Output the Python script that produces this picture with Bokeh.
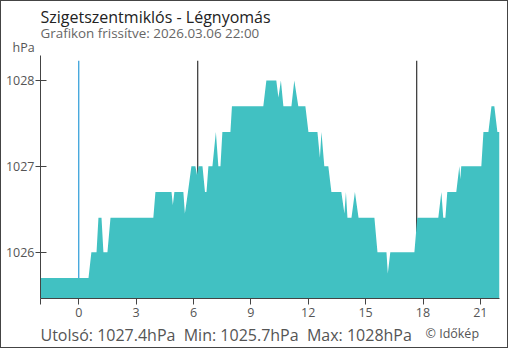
from bokeh.plotting import figure
from bokeh.models import FixedTicker, Title, Range1d
from bokeh.embed import file_html
from bokeh.resources import INLINE

# ---- data (hours relative to midnight of 2026.03.06, pressure in hPa) ----
hours = [-2.0, 0.51, 0.66, 0.93, 1.03, 1.19, 1.29, 1.50, 1.66, 3.90,
         4.01, 4.85, 4.92, 5.00, 5.47, 5.55, 5.71, 5.89, 6.10, 6.18,
         6.26, 6.47, 6.60, 6.68, 6.78, 6.99, 7.17, 7.30, 7.41, 7.51,
         7.93, 8.01, 9.65, 9.81, 10.33, 10.44, 10.57, 10.70, 11.12, 11.27,
         11.48, 11.85, 12.01, 12.48, 12.61, 12.69, 12.84, 13.05, 13.21, 13.73,
         13.89, 13.97, 14.05, 14.26, 14.44, 14.63, 15.46, 15.62, 16.09, 16.16,
         16.29, 17.55, 17.70, 18.80, 18.96, 19.06, 19.17, 19.27, 19.74, 19.90,
         19.95, 20.00, 21.05, 21.16, 21.42, 21.58, 21.73, 21.89, 22.0]
pressure = [1025.7, 1025.7, 1026.0, 1026.0, 1026.4, 1026.4, 1026.0, 1026.0, 1026.4, 1026.4,
            1026.7, 1026.7, 1026.55, 1026.7, 1026.7, 1026.45, 1026.7, 1027.0, 1027.0, 1026.9,
            1027.0, 1027.0, 1026.7, 1026.7, 1027.0, 1027.0, 1027.4, 1027.0, 1027.0, 1027.4,
            1027.4, 1027.7, 1027.7, 1028.0, 1028.0, 1027.8, 1028.0, 1027.7, 1027.7, 1028.0,
            1027.7, 1027.7, 1027.4, 1027.4, 1027.1, 1027.4, 1027.0, 1027.0, 1026.7, 1026.7,
            1026.45, 1026.7, 1026.4, 1026.4, 1026.7, 1026.4, 1026.4, 1026.0, 1026.0, 1025.75,
            1026.0, 1026.0, 1026.4, 1026.4, 1026.7, 1026.4, 1026.4, 1026.7, 1026.7, 1027.0,
            1026.85, 1027.0, 1027.0, 1027.4, 1027.4, 1027.7, 1027.7, 1027.4, 1027.4]
now_hour = [0.0]
sun_hours = [6.22, 17.67]          # sunrise / sunset markers
x_ticks = [-2, 0, 3, 6, 9, 12, 15, 18, 21]
x_tick_labels = ["", "0", "3", "6", "9", "12", "15", "18", "21"]
y_ticks = [1026, 1027, 1028]
title_text = "Szigetszentmiklós - Légnyomás"
subtitle_text = "Grafikon frissítve: 2026.03.06 22:00"
unit_text = "hPa"
last_value, min_value, max_value = 1027.4, 1025.7, 1028
credit_text = "© Időkép"

FONT = "Open Sans"
x_lo, x_hi = -2, 22
y_lo, y_hi = 1025.46, 1028.29
marker_top = 1028.23

p = figure(width=508, height=348, x_range=Range1d(x_lo, x_hi), y_range=Range1d(y_lo, y_hi),
           output_backend="svg", toolbar_location=None, title=None,
           min_border_left=39, min_border_right=10, min_border_top=54, min_border_bottom=49)
p.styles = {"border": "1px solid #444"}
p.outline_line_color = None
p.background_fill_color = "white"
p.border_fill_color = "white"
p.xgrid.visible = False
p.ygrid.visible = False

# markers (behind the area)
p.segment(x0=sun_hours, y0=[y_lo] * len(sun_hours), x1=sun_hours, y1=[marker_top] * len(sun_hours),
          line_color="#333333", line_width=1.2)
p.segment(x0=now_hour, y0=[y_lo], x1=now_hour, y1=[marker_top], line_color="#2a9ad8", line_width=1.2)

# pressure area
p.varea(x=hours, y1=y_lo - 1, y2=pressure, fill_color="#41c1c2", fill_alpha=1.0)

for ax in (p.xaxis[0], p.yaxis[0]):
    ax.axis_line_color = "#444444"
    ax.major_tick_line_color = "#444444"
    ax.minor_tick_line_color = None
    ax.major_label_text_color = "#555555"
    ax.major_label_text_font = FONT
    ax.major_label_text_font_size = "12.5px"

p.xaxis.ticker = FixedTicker(ticks=x_ticks)
p.xaxis.major_label_overrides = {t: l for t, l in zip(x_ticks, x_tick_labels)}
p.xaxis.major_tick_out = 6
p.xaxis.major_tick_in = 0
p.xaxis.major_label_standoff = 3

p.yaxis.ticker = FixedTicker(ticks=y_ticks)
p.yaxis.major_tick_out = 5
p.yaxis.major_tick_in = 6
p.yaxis.major_label_standoff = 1


def make_title(text, size, color, offset, standoff, valign):
    return Title(text=text, align="left", offset=offset, standoff=standoff,
                 vertical_align=valign, text_font=FONT, text_font_size=size,
                 text_font_style="normal", text_color=color)


# above: first added sits nearest to the frame
p.add_layout(make_title(unit_text, "12.5px", "#555555", -28, 0, "bottom"), "above")
p.add_layout(make_title(subtitle_text, "13.4px", "#666666", 0, -10.4, "bottom"), "above")
p.add_layout(make_title(title_text, "16px", "#222222", 0, -2.5, "bottom"), "above")

footer = (f"Utolsó: {last_value}hPa\u00a0\u00a0Min: {min_value}hPa\u00a0\u00a0"
          f"Max: {max_value:g}hPa")
p.add_layout(make_title(footer, "16px", "#555555", 0, 6.4, "bottom"), "below")
p.add_layout(make_title(credit_text, "12.5px", "#555555", 385, -49, "top"), "below")

open("out.html", "w").write(file_html(p, INLINE))
